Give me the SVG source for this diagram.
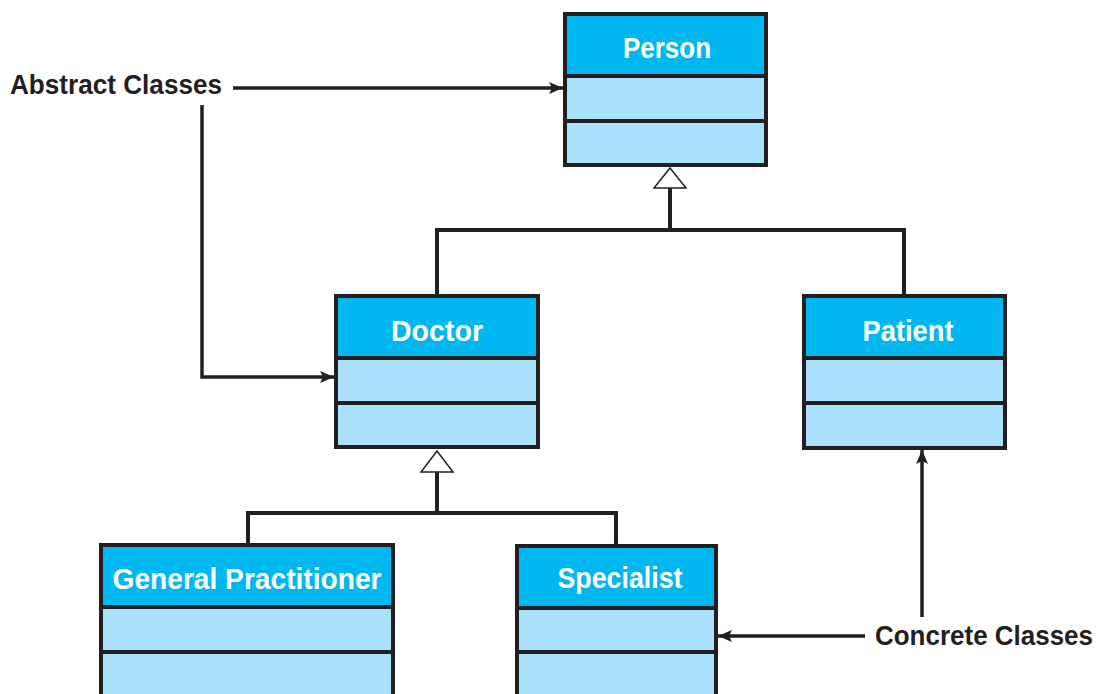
<svg xmlns="http://www.w3.org/2000/svg" width="1102" height="694" viewBox="0 0 1102 694">
  <defs>
    <marker id="arrow" viewBox="0 0 14 12" refX="14" refY="6" markerWidth="14" markerHeight="12" markerUnits="userSpaceOnUse" orient="auto">
      <path d="M0,0 L14,6 L0,12 L3,6 Z" fill="#231F20"/>
    </marker>
    <style>
      .head { fill: #00B8EF; stroke: #231F20; stroke-width: 4; }
      .body { fill: #A9E0FA; stroke: #231F20; stroke-width: 4; }
      .div { stroke: #231F20; stroke-width: 4; }
      .title { font-family: "Liberation Sans", Arial, sans-serif; font-weight: bold; font-size: 29px; fill: #FFFFFF; text-anchor: middle; }
      .label { font-family: "Liberation Sans", Arial, sans-serif; font-weight: bold; font-size: 27px; fill: #231F20; }
      .line { fill: none; stroke: #231F20; stroke-width: 4; }
      .pointer { fill: none; stroke: #231F20; stroke-width: 3.5; }
      .tri { fill: #FFFFFF; stroke: #231F20; stroke-width: 1.5; }
    </style>
  </defs>

  <!-- class boxes -->
  <g id="person">
    <rect class="body" x="565" y="14" width="201" height="151"/>
    <rect class="head" x="565" y="14" width="201" height="62"/>
    <line class="div" x1="565" y1="121" x2="766" y2="121"/>
    <text class="title" x="667" y="58" textLength="88" lengthAdjust="spacingAndGlyphs">Person</text>
  </g>

  <g id="doctor">
    <rect class="body" x="336" y="296" width="202" height="151"/>
    <rect class="head" x="336" y="296" width="202" height="62"/>
    <line class="div" x1="336" y1="403" x2="538" y2="403"/>
    <text class="title" x="437" y="341" textLength="92" lengthAdjust="spacingAndGlyphs">Doctor</text>
  </g>

  <g id="patient">
    <rect class="body" x="804" y="296" width="201" height="152"/>
    <rect class="head" x="804" y="296" width="201" height="62"/>
    <line class="div" x1="804" y1="403" x2="1005" y2="403"/>
    <text class="title" x="908" y="341" textLength="91" lengthAdjust="spacingAndGlyphs">Patient</text>
  </g>

  <g id="general-practitioner">
    <rect class="body" x="101" y="545" width="292" height="170"/>
    <rect class="head" x="101" y="545" width="292" height="62"/>
    <line class="div" x1="101" y1="652" x2="393" y2="652"/>
    <text class="title" x="247" y="589" textLength="269" lengthAdjust="spacingAndGlyphs">General Practitioner</text>
  </g>

  <g id="specialist">
    <rect class="body" x="517" y="546" width="199" height="170"/>
    <rect class="head" x="517" y="546" width="199" height="62"/>
    <line class="div" x1="517" y1="652" x2="716" y2="652"/>
    <text class="title" x="620" y="588" textLength="125" lengthAdjust="spacingAndGlyphs">Specialist</text>
  </g>

  <!-- annotations -->
  <g id="abstract-label">
    <text class="label" x="10" y="94" textLength="212" lengthAdjust="spacingAndGlyphs">Abstract Classes</text>
  </g>
  <g id="concrete-label">
    <text class="label" x="875" y="645" font-size="26" textLength="218" lengthAdjust="spacingAndGlyphs">Concrete Classes</text>
  </g>

  <!-- connectors -->
  <g id="connectors">
    <!-- generalisation: Doctor, Patient -> Person -->
    <path class="line" d="M437,294 V230 H904 V294"/>
    <line class="line" x1="670" y1="230" x2="670" y2="187"/>
    <polygon class="tri" points="670,168 686,188 654,188"/>

    <!-- generalisation: General Practitioner, Specialist -> Doctor -->
    <path class="line" d="M248,543 V513 H616 V544"/>
    <line class="line" x1="437" y1="513" x2="437" y2="471"/>
    <polygon class="tri" points="437,451 453,472 421,472"/>

    <!-- abstract class pointers -->
    <line class="pointer" x1="233" y1="88" x2="563" y2="88" marker-end="url(#arrow)"/>
    <path class="pointer" d="M202,105 V377 H334" marker-end="url(#arrow)"/>

    <!-- concrete class pointers -->
    <line class="pointer" x1="865" y1="636" x2="718" y2="636" marker-end="url(#arrow)"/>
    <line class="pointer" x1="922" y1="617" x2="922" y2="450" marker-end="url(#arrow)"/>
  </g>
</svg>
